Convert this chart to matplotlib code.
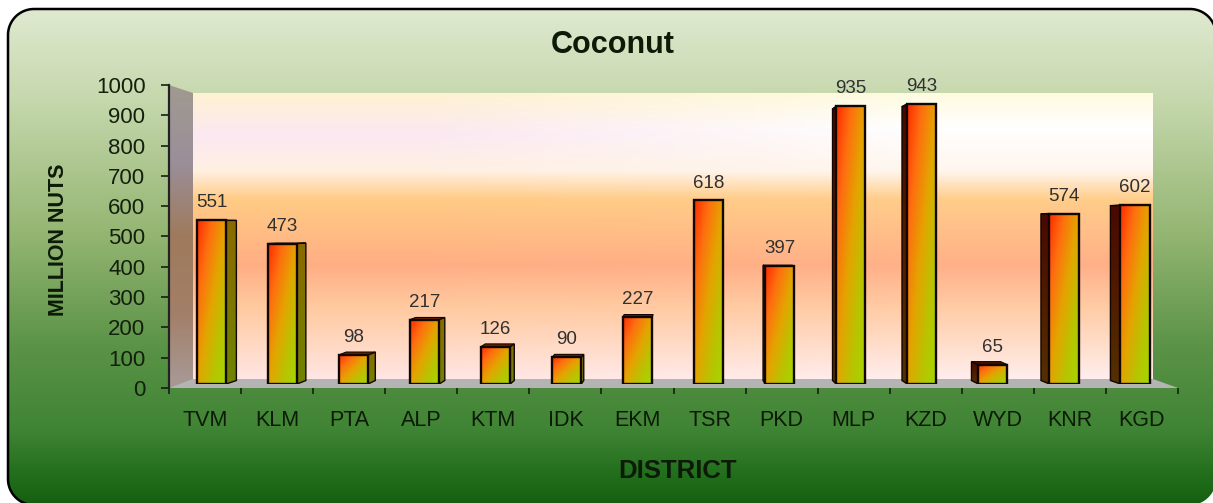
import matplotlib
matplotlib.use("Agg")
import matplotlib.pyplot as plt
import numpy as np
from matplotlib.colors import LinearSegmentedColormap
from matplotlib.patches import Polygon

plt.rcParams['font.family'] = ['Liberation Sans', 'DejaVu Sans']

districts = ['TVM', 'KLM', 'PTA', 'ALP', 'KTM', 'IDK', 'EKM', 'TSR', 'PKD', 'MLP', 'KZD', 'WYD', 'KNR', 'KGD']
nuts = [551, 473, 98, 217, 126, 90, 227, 618, 397, 935, 943, 65, 574, 602]
y_ticks = list(range(0, 1001, 100))

W, H = 1213, 503


def rect(left, top, right, bottom):
    return [left / W, 1 - bottom / H, (right - left) / W, (bottom - top) / H]


def grad(stops):
    return LinearSegmentedColormap.from_list('g', stops)


def corner(cx, cy, rad, a0, a1):
    a = np.radians(np.linspace(a0, a1, 24))
    return np.column_stack([cx + rad * np.cos(a), cy + rad * np.sin(a)])


ramp = np.linspace(0, 1, 256).reshape(-1, 1)

fig = plt.figure(figsize=(W / 100, H / 100), dpi=100, facecolor='white')

# background in pixel coords
bg = fig.add_axes([0, 0, 1, 1])
bg.axis('off')

panel_stops = [(0, '#dfe9d0'), (0.18, '#c6d8ad'), (0.45, '#95b673'), (0.68, '#5b9347'), (0.85, '#3f8434'),
               (0.95, '#1f6c1a'), (1, '#146010')]
# the panel runs just past the right and bottom edges of the picture
pl, pt, pr, pb, rad = 8, 9, 1216, 505, 26
edge = np.vstack([corner(pl + rad, pb - rad, rad, 90, 180), corner(pl + rad, pt + rad, rad, 180, 270),
                  corner(pr - rad, pt + rad, rad, 270, 360), corner(pr - rad, pb - rad, rad, 0, 90)])
panel = Polygon(edge, closed=True, fc='none', ec='none')
bg.add_patch(panel)
im = bg.imshow(ramp, cmap=grad(panel_stops), extent=(pl, pr, pb, pt), aspect='auto', zorder=1)
im.set_clip_path(panel)
# dark line on the left and top only
bg.plot(edge[:72, 0], edge[:72, 1], color='black', lw=1.8, zorder=2)

wall_left = [(0, '#fff2d2'), (0.14, '#fbe8f2'), (0.27, '#fff0e2'), (0.37, '#ffcb85'), (0.6, '#ffae84'),
             (0.75, '#ffcaa0'), (1, '#ffe6e4')]
wall_right = [(0, '#fffbe0'), (0.12, '#ffffff'), (0.27, '#fff6ee'), (0.37, '#ffcd8a'), (0.6, '#ffb088'),
              (0.75, '#ffcca6'), (1, '#ffeeee')]
wall_img = np.stack([grad(wall_left)(ramp[:, 0])[:, :3], grad(wall_right)(ramp[:, 0])[:, :3]], axis=1)
bg.imshow(wall_img, extent=(193, 1153, 380, 93), aspect='auto', zorder=3, interpolation='bilinear')

side = Polygon([(169, 85), (193, 93), (193, 380), (169, 388)], fc='none', ec='none', zorder=3)
bg.add_patch(side)
im = bg.imshow(ramp, cmap=grad(['#a09a90', '#9a8f9a', '#9f7a5c', '#a27f68', '#a89a98']),
               extent=(169, 193, 388, 85), aspect='auto', zorder=3)
im.set_clip_path(side)
bg.add_patch(Polygon([(193, 379), (1153, 379), (1178, 388), (169, 388)], fc='#b4b4b4', ec='none', zorder=4))
bg.set_xlim(0, W)
bg.set_ylim(H, 0)

# front plane: real axis scales and ticks
ax = fig.add_axes(rect(169, 85, 1178, 388), facecolor='none')
ax.set_xlim(0, len(districts))
ax.set_ylim(0, 1000)
for s in ['top', 'right', 'bottom']:
    ax.spines[s].set_visible(False)
ax.spines['left'].set_linewidth(1.6)
ax.spines['left'].set_color('#222222')
ax.set_yticks(y_ticks)
ax.tick_params(axis='y', length=6, width=1.2, pad=11, labelsize=16, colors='#14200e')
ax.set_xticks(range(len(districts) + 1))
ax.set_xticklabels([])
ax.tick_params(axis='x', which='major', length=4, width=1.2, color='#14200e')
ax.set_xticks(np.arange(len(districts)) + 0.5, minor=True)
ax.set_xticklabels(districts, minor=True)
ax.tick_params(axis='x', which='minor', length=0, pad=16, labelsize=15.5, labelcolor='#0c1a08')
ax.set_xlabel('DISTRICT', fontsize=18.5, fontweight='bold', color='#0c1a08')
ax.xaxis.set_label_coords((678 - 169) / (1178 - 169), -(459 - 388) / (388 - 85), transform=ax.transAxes)
ax.set_ylabel('MILLION NUTS', fontsize=15.5, fontweight='bold', color='#0c1a08')
ax.yaxis.set_label_coords(-(169 - 69) / (1178 - 169), (388 - 240) / (388 - 85), transform=ax.transAxes)
fig.text(613 / W, 1 - 45 / H, 'Coconut', ha='center', va='center', fontsize=22, fontweight='bold', color='#0c1a08')

# bars sit a little behind the front plane
bx = fig.add_axes(rect(176, 87, 1170.5, 384), facecolor='none')
bx.axis('off')
px_x = (1170.5 - 176) / len(districts)
px_y = (384 - 87) / 1000

front = grad(['#ff2a00', '#ff6e10', '#e4a400', '#b8c400', '#a4d800'])
yy, xx = np.mgrid[0:1:100j, 0:1:100j]
diag = (yy + xx) / 2

bars = bx.bar(range(len(districts)), nuts, width=0.41, fc='none', ec='#120600', lw=1.7, zorder=5)
for i, (b, v) in enumerate(zip(bars, nuts)):
    l, r = b.get_x(), b.get_x() + b.get_width()
    cx = 211.5 + i * 71
    # 3d depth runs towards a vanishing point in the middle of the chart
    d = (680 - cx) * 0.022
    inner = r if d > 0 else l
    dx = d / px_x
    dy0 = (384 - 225) * 0.022 / px_y
    dyt = (384 - v * px_y - 225) * 0.022 / px_y
    if abs(d) > 1:
        sp = Polygon([(inner, 0), (inner + dx, dy0), (inner + dx, v + dyt), (inner, v)], fc='none', ec='#120600', lw=1, zorder=3)
        bx.add_patch(sp)
        stops = ['#8a6a00', '#6f8400'] if d > 0 else ['#4a0800', '#553000']
        im = bx.imshow(np.linspace(0, 1, 64).reshape(-1, 1), cmap=grad(stops),
                       extent=(min(inner, inner + dx), max(inner, inner + dx), 0, v + max(dyt, 0)), aspect='auto', zorder=2)
        im.set_clip_path(sp)
    top = Polygon([(l, v), (l + dx, v + dyt), (r + dx, v + dyt), (r, v)], fc='#6a2400' if d > 0 else '#4a0e00',
                  ec='#120600', lw=0.8, zorder=3)
    bx.add_patch(top)
    im = bx.imshow(diag, cmap=front, extent=(l, r, 0, v), aspect='auto', zorder=4, interpolation='bilinear')
    im.set_clip_path(b)
    bx.annotate(str(v), (i, v), xytext=(0, 12.5), textcoords='offset points', ha='center', va='center',
                fontsize=13.5, color='#303030', zorder=6)
bx.set_xlim(-0.5, len(districts) - 0.5)
bx.set_ylim(0, 1000)

fig.savefig('out.png', dpi=100, facecolor='white')
